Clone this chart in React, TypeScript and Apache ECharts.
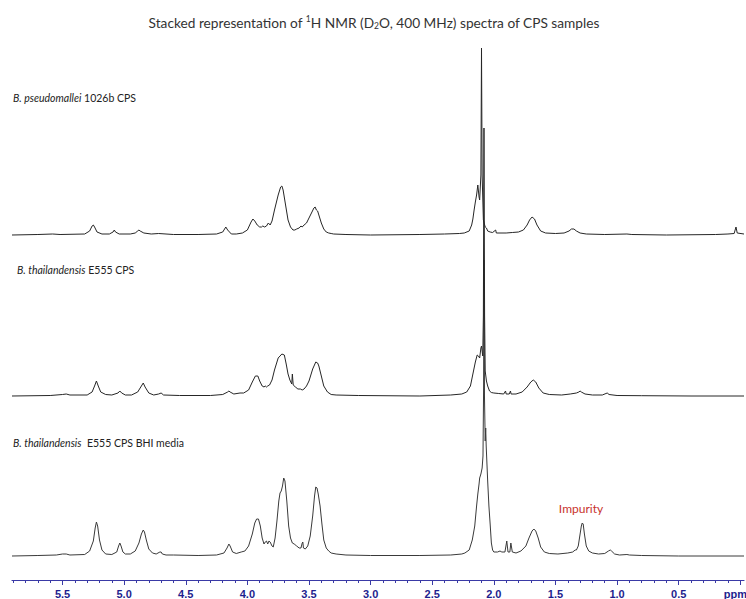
import React, { useEffect, useRef } from 'react';
import * as echarts from 'echarts';

// ppm tick labels (0 is shown as the unit "ppm")
const tickValues = [0, 0.5, 1, 1.5, 2, 2.5, 3, 3.5, 4, 4.5, 5, 5.5];

const sampleNames = [
  ['B. pseudomallei', '1026b CPS'],
  ['B. thailandensis', 'E555 CPS'],
  ['B. thailandensis', ' E555 CPS BHI media'],
];

// vertical stacking offsets of the three spectra (intensity units)
const stackOffsets = [345, 184, 24];

// [ppm, intensity]
const bpCps: [number, number][] = [
  [5.91, 0], [5.7, 0.5], [5.58, 1], [5.52, 0.5], [5.32, 1], [5.28, 4], [5.26, 9], [5.25, 10], [5.24, 8], [5.22, 3], [5.18, 1],
  [5.12, 1], [5.09, 3], [5.08, 5], [5.07, 3], [5.04, 1], [4.95, 1], [4.91, 2], [4.89, 4], [4.88, 5], [4.87, 4], [4.84, 2],
  [4.78, 1], [4.72, 1.5], [4.6, 0.5], [4.4, 0.5], [4.25, 1], [4.2, 3], [4.18, 7], [4.175, 8], [4.16, 5], [4.13, 1], [4.09, 1],
  [4.04, 2], [4.0, 5], [3.97, 13], [3.955, 16], [3.94, 14], [3.92, 10], [3.9, 8], [3.885, 8], [3.875, 9], [3.86, 8], [3.845, 9],
  [3.83, 12], [3.815, 10], [3.8, 14], [3.78, 25], [3.75, 40], [3.73, 48], [3.72, 49], [3.71, 45], [3.69, 30], [3.67, 15],
  [3.65, 8], [3.63, 5], [3.615, 5], [3.6, 6], [3.58, 7], [3.565, 9], [3.555, 8], [3.54, 10], [3.52, 12], [3.5, 17], [3.48, 22],
  [3.46, 27], [3.45, 28], [3.44, 25], [3.43, 24], [3.42, 20], [3.4, 12], [3.38, 6], [3.36, 3], [3.34, 2], [3.32, 1.5], [3.3, 1],
  [3.2, 0.5], [3.0, 0], [2.6, 0.5], [2.4, 1], [2.28, 1.5], [2.24, 2], [2.2, 4], [2.18, 10], [2.17, 16], [2.16, 25], [2.15, 33],
  [2.14, 40], [2.13, 50], [2.12, 38], [2.115, 35], [2.105, 60], [2.1, 187], [2.095, 60], [2.085, 15], [2.07, 8], [2.06, 7],
  [2.05, 4], [2.03, 3], [2.01, 2.5], [1.985, 5], [1.98, 2], [1.95, 2], [1.9, 2], [1.85, 2.5], [1.8, 3], [1.76, 5], [1.73, 10],
  [1.71, 15], [1.69, 18], [1.67, 16], [1.65, 10], [1.62, 4], [1.58, 2], [1.5, 1.5], [1.43, 2], [1.39, 4], [1.37, 6], [1.35, 6],
  [1.33, 4], [1.3, 2], [1.25, 1], [1.1, 0.5], [0.92, 1], [0.88, 0.5], [0.6, 0], [0.2, 0.5], [0.1, 1], [0.05, 1.5], [0.035, 8],
  [0.025, 2], [-0.03, 1],
];

const btCps: [number, number][] = [
  [5.91, 0], [5.6, 0.5], [5.5, 1.5], [5.47, 2], [5.44, 1], [5.3, 1], [5.26, 4], [5.24, 10], [5.225, 15], [5.21, 10], [5.19, 4],
  [5.15, 1.5], [5.1, 1], [5.05, 3], [5.035, 5], [5.02, 3], [4.99, 1], [4.94, 1], [4.89, 4], [4.86, 10], [4.845, 13], [4.83, 9],
  [4.8, 3], [4.76, 1], [4.72, 2], [4.7, 3], [4.68, 1], [4.55, 0.5], [4.3, 0.5], [4.2, 1.5], [4.16, 4], [4.15, 5], [4.14, 4],
  [4.11, 2], [4.06, 3], [4.03, 3], [3.99, 6], [3.96, 14], [3.935, 20], [3.915, 20], [3.9, 15], [3.88, 10], [3.865, 9],
  [3.855, 10], [3.845, 9], [3.835, 10], [3.82, 11], [3.8, 16], [3.78, 26], [3.75, 38], [3.72, 42], [3.7, 41], [3.685, 32],
  [3.67, 22], [3.655, 16], [3.64, 12], [3.635, 22], [3.632, 22], [3.628, 11], [3.61, 9], [3.59, 7], [3.57, 7], [3.555, 6],
  [3.54, 7], [3.52, 10], [3.5, 15], [3.47, 27], [3.445, 34], [3.43, 33], [3.42, 30], [3.4, 20], [3.38, 10], [3.35, 4],
  [3.32, 1.5], [3.28, 1], [3.1, 0.5], [2.6, 0], [2.35, 1], [2.26, 2], [2.22, 4], [2.19, 10], [2.17, 22], [2.15, 34], [2.135, 41],
  [2.125, 40], [2.115, 38], [2.105, 48], [2.1, 50], [2.095, 45], [2.09, 40], [2.085, 80], [2.08, 268], [2.075, 80], [2.07, 25],
  [2.06, 15], [2.05, 10], [2.035, 5], [2.02, 3.5], [2.0, 3], [1.96, 2.5], [1.92, 2], [1.905, 5], [1.9, 2], [1.875, 2],
  [1.865, 5], [1.86, 2], [1.82, 2], [1.77, 4], [1.73, 9], [1.7, 14], [1.68, 16], [1.66, 14], [1.635, 8], [1.6, 3], [1.55, 1.5],
  [1.45, 1], [1.38, 2], [1.33, 3], [1.31, 4], [1.3, 5], [1.29, 4], [1.26, 2], [1.2, 1], [1.12, 1], [1.09, 2.5], [1.08, 3],
  [1.065, 1.5], [1.0, 0.5], [0.8, 0.3], [0.4, 0], [-0.03, 0],
];

const btBhi: [number, number][] = [
  [5.91, 0], [5.7, 0.5], [5.55, 1], [5.5, 2], [5.47, 2], [5.44, 1], [5.32, 1.5], [5.28, 5], [5.25, 15], [5.235, 28],
  [5.225, 34], [5.215, 30], [5.2, 16], [5.18, 6], [5.15, 2], [5.1, 1.5], [5.06, 4], [5.045, 10], [5.035, 13], [5.025, 10],
  [5.01, 4], [4.99, 2], [4.95, 2], [4.91, 5], [4.88, 13], [4.86, 22], [4.845, 26], [4.835, 24], [4.82, 16], [4.8, 7],
  [4.77, 3], [4.74, 2], [4.71, 4], [4.7, 4], [4.69, 2], [4.66, 1], [4.6, 1], [4.4, 0.5], [4.25, 1], [4.19, 3], [4.165, 8],
  [4.15, 12], [4.14, 10], [4.12, 4], [4.09, 2.5], [4.05, 4], [4.02, 5], [3.99, 10], [3.96, 22], [3.94, 33], [3.925, 37],
  [3.91, 37], [3.895, 30], [3.88, 18], [3.865, 12], [3.855, 14], [3.845, 15], [3.835, 12], [3.825, 15], [3.815, 14],
  [3.8, 10], [3.79, 9], [3.775, 18], [3.76, 35], [3.745, 55], [3.735, 63], [3.725, 65], [3.715, 70], [3.705, 78], [3.695, 75],
  [3.68, 55], [3.665, 30], [3.65, 18], [3.635, 13], [3.62, 12], [3.6, 10], [3.58, 8], [3.565, 8], [3.555, 13], [3.55, 14],
  [3.545, 8], [3.53, 7], [3.51, 10], [3.49, 20], [3.47, 40], [3.455, 60], [3.445, 69], [3.435, 68], [3.425, 62], [3.41, 50],
  [3.395, 32], [3.38, 16], [3.36, 8], [3.34, 5], [3.32, 3], [3.28, 2], [3.2, 1], [3.0, 0.5], [2.6, 0.5], [2.35, 1], [2.26, 2],
  [2.235, 3], [2.2, 6], [2.175, 16], [2.155, 30], [2.14, 50], [2.13, 62], [2.12, 72], [2.115, 78], [2.105, 82], [2.095, 88],
  [2.088, 100], [2.083, 170], [2.08, 296], [2.076, 160], [2.07, 115], [2.066, 128], [2.062, 110], [2.05, 75], [2.04, 50],
  [2.03, 32], [2.02, 13], [2.01, 6], [2.0, 4], [1.97, 4], [1.95, 5], [1.935, 4], [1.91, 4], [1.895, 15], [1.89, 15],
  [1.885, 4], [1.87, 4], [1.862, 13], [1.858, 13], [1.85, 4], [1.82, 3], [1.78, 5], [1.74, 10], [1.715, 18], [1.69, 25],
  [1.675, 27], [1.66, 25], [1.64, 18], [1.62, 9], [1.59, 4], [1.55, 2.5], [1.48, 2], [1.4, 3], [1.36, 4], [1.34, 6], [1.33, 6],
  [1.315, 10], [1.3, 22], [1.29, 30], [1.283, 33], [1.275, 32], [1.265, 22], [1.25, 10], [1.23, 5], [1.2, 3], [1.15, 2],
  [1.1, 2.5], [1.07, 5], [1.055, 6], [1.045, 5], [1.02, 2], [0.98, 1], [0.92, 1.5], [0.9, 1], [0.8, 0.5], [0.5, 0], [-0.03, 0],
];

const spectra = [bpCps, btCps, btBhi];

const impurityLabel = 'Impurity';

export default function App() {
  const ref = useRef<HTMLDivElement>(null);

  useEffect(() => {
    if (!ref.current) return;
    const chart = echarts.init(ref.current, null, { renderer: 'svg', width: 746, height: 599 });

    const series = spectra.map((pts, i) => ({
      type: 'line',
      name: sampleNames[i].join(' '),
      data: pts.map(([p, v]) => [p, v + stackOffsets[i]]),
      showSymbol: false,
      symbol: 'none',
      lineStyle: { color: i === 2 ? '#3a3a3a' : '#262626', width: 1 },
      silent: true,
      z: 3 - i,
    }));

    const labelY = [98, 270, 443];
    const labelX = [13, 17, 13];

    chart.setOption({
      animation: false,
      backgroundColor: '#ffffff',
      grid: { left: 12, right: 2, top: 0, bottom: 19, containLabel: false, outerBoundsMode: 'none' },
      xAxis: {
        type: 'value',
        inverse: true,
        min: -0.03,
        max: 5.91,
        splitNumber: 12,
        splitLine: { show: false },
        axisLine: { show: true, lineStyle: { color: '#3a3aa6', width: 1.2 } },
        axisTick: {
          show: true,
          length: 5,
          customValues: tickValues,
          lineStyle: { color: '#3a3aa6', width: 1 },
        },
        minorTick: { show: true, splitNumber: 5, length: 3, lineStyle: { color: '#3a3aa6', width: 1 } },
        axisLabel: {
          customValues: tickValues,
          margin: 8,
          fontSize: 11,
          fontWeight: 'bold',
          fontFamily: 'Liberation Sans, Arial, sans-serif',
          color: '#1e1e8e',
          hideOverlap: false,
          formatter: (v: number) => (Math.abs(v) < 1e-9 ? '{u|ppm}' : v.toFixed(1)),
          rich: {
            u: { fontSize: 11, fontWeight: 'bold', color: '#1e1e8e', padding: [0, 10, 0, 0], fontFamily: 'Liberation Sans, Arial, sans-serif' },
          },
        },
      },
      yAxis: { type: 'value', min: 0, max: 580, show: false },
      series,
      graphic: [
        {
          type: 'text',
          x: 374,
          y: 22,
          style: {
            text: '{n|Stacked representation of }{sup|1}{n|H NMR (D}{sub|2}{n|O, 400 MHz) spectra of CPS samples}',
            align: 'center',
            verticalAlign: 'middle',
            fill: '#333',
            rich: {
              n: { fontFamily: 'Lato', fontSize: 13.7, lineHeight: 18, fill: '#333', verticalAlign: 'middle' },
              sup: { fontFamily: 'Lato', fontSize: 8.5, lineHeight: 18, fill: '#333', verticalAlign: 'top', padding: [1, 0, 0, 0] },
              sub: { fontFamily: 'Lato', fontSize: 8.5, lineHeight: 18, fill: '#333', verticalAlign: 'bottom', padding: [0, 0, 1, 0] },
            },
          },
        },
        ...sampleNames.map((nm, i) => ({
          type: 'text',
          x: labelX[i],
          y: labelY[i],
          style: {
            text: `{i|${nm[0]}}{n| ${nm[1]}}`,
            align: 'left',
            verticalAlign: 'middle',
            fill: '#222',
            rich: {
              i: { fontFamily: 'Lato', fontSize: 10.5, fontStyle: 'italic', fill: '#222' },
              n: { fontFamily: 'Lato', fontSize: 10.5, fill: '#222' },
            },
          },
        })),
        {
          type: 'text',
          x: 581,
          y: 508,
          style: {
            text: impurityLabel,
            align: 'center',
            verticalAlign: 'middle',
            fontFamily: 'Lato',
            fontSize: 12,
            fill: '#c8322d',
          },
        },
      ],
    });

    return () => chart.dispose();
  }, []);

  return (
    <div
      ref={ref}
      style={{ position: 'fixed', left: 0, top: 0, width: 746, height: 599, background: '#fff' }}
    />
  );
}
